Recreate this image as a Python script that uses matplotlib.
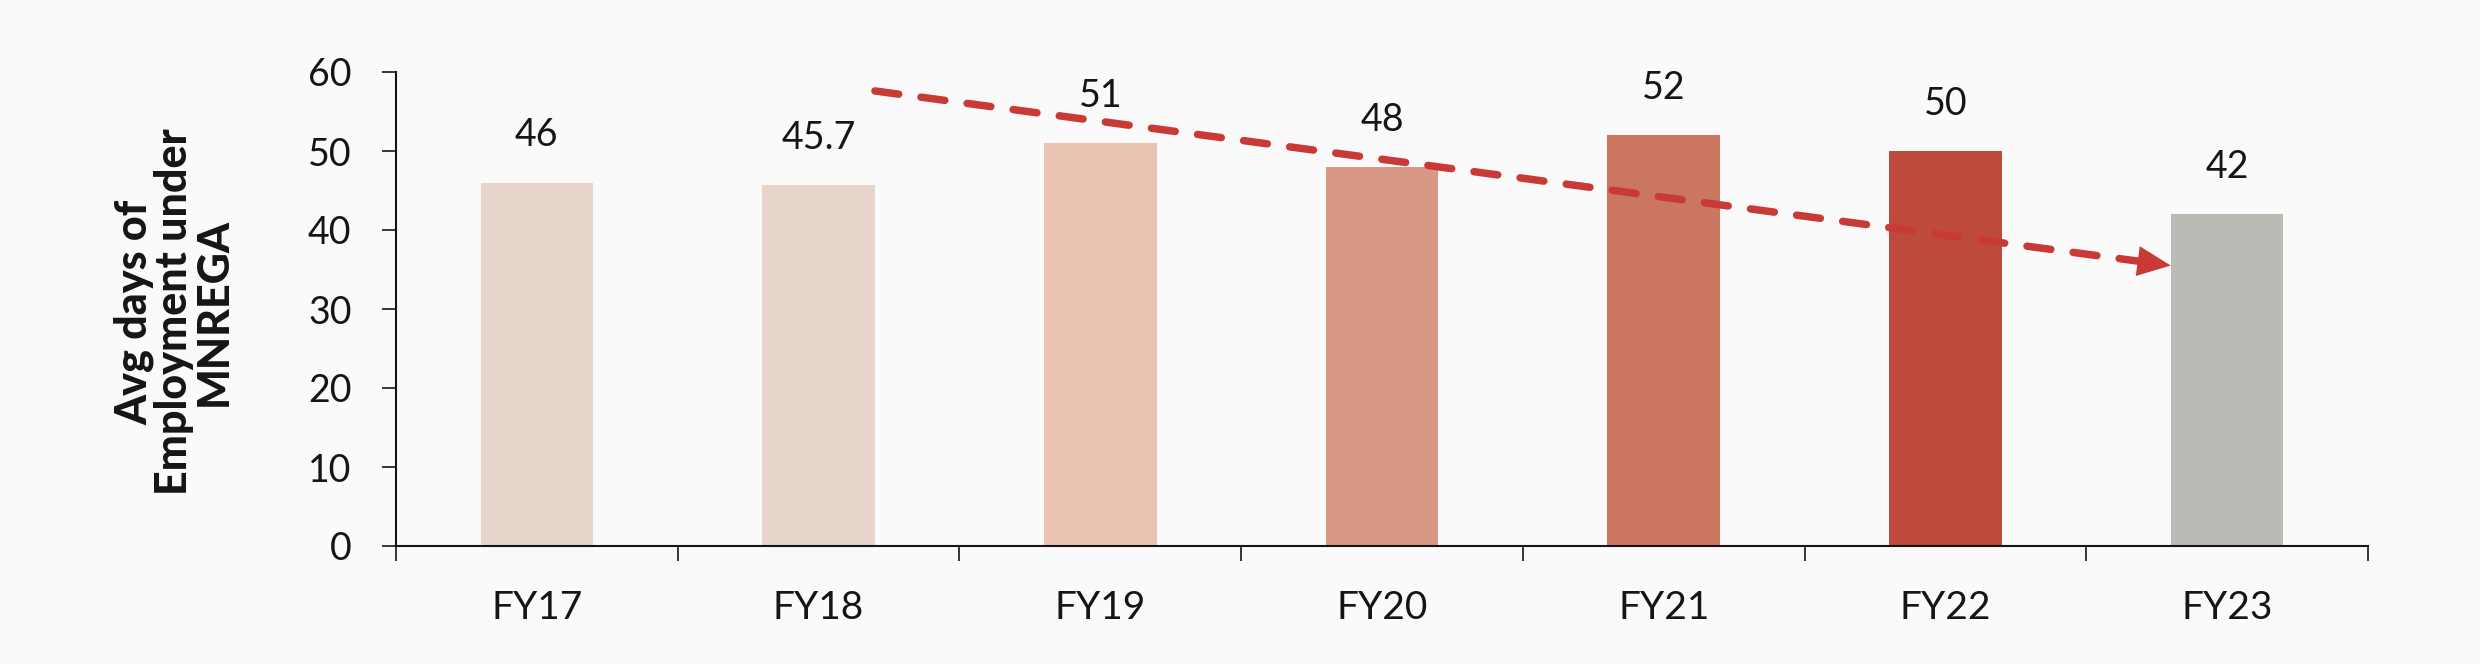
import matplotlib
matplotlib.use("Agg")
import matplotlib.pyplot as plt
import numpy as np

# ---- data ----
categories = ["FY17", "FY18", "FY19", "FY20", "FY21", "FY22", "FY23"]
values = [46, 45.7, 51, 48, 52, 50, 42]
value_labels = ["46", "45.7", "51", "48", "52", "50", "42"]
bar_colors = ["#E7D5CC", "#E7D5CC", "#E9C3B0", "#D99883", "#CB7661", "#BD4A3B", "#BBBBB6"]
y_ticks = [0, 10, 20, 30, 40, 50, 60]
y_label = "Avg days of\nEmployment under\nMNREGA"
# trend arrow (data coordinates: category index, value)
arrow_start = [1.2, 57.6]
arrow_end = [5.8, 35.5]

FONT = ["Lato", "DejaVu Sans"]
plt.rcParams["font.family"] = FONT
BG = "#FAFAFA"
INK = "#151515"
RED = "#C93A36"

fig = plt.figure(figsize=(24.8, 6.64), dpi=100, facecolor=BG)
ax = fig.add_axes([396 / 2480, 1 - 546 / 664, (2368 - 396) / 2480, (546 - 72) / 664])
ax.set_facecolor(BG)

x = np.arange(len(categories))
ax.bar(x, values, width=0.4, color=bar_colors, zorder=2)

for xi, v, lab in zip(x, values, value_labels):
    ax.annotate(lab, xy=(xi, v), xytext=(0, 26), textcoords="offset points",
                ha="center", va="baseline", fontsize=27, color=INK, zorder=4)

ax.set_xlim(-0.5, len(categories) - 0.5)
ax.set_ylim(0, 60)

for s in ["top", "right"]:
    ax.spines[s].set_visible(False)
for s in ["left", "bottom"]:
    ax.spines[s].set_color(INK)
    ax.spines[s].set_linewidth(1.5)

ax.set_yticks(y_ticks)
ax.set_yticklabels([str(t) for t in y_ticks])
ax.tick_params(axis="y", direction="out", length=10, width=1.2, colors=INK,
               labelsize=27, pad=22)

ax.set_xticks(x)
ax.set_xticklabels(categories)
ax.set_xticks(np.arange(len(categories) + 1) - 0.5, minor=True)
ax.tick_params(axis="x", which="major", length=0, labelsize=28, pad=32, colors=INK)
ax.tick_params(axis="x", which="minor", direction="out", length=11, width=1.2, colors=INK)

# dashed trend line + arrowhead
ax.annotate("", xy=arrow_end, xytext=arrow_start,
            arrowprops=dict(arrowstyle="-", color=RED, lw=5.4,
                            linestyle=(0, (3.2, 3.0)), shrinkA=0, shrinkB=24),
            zorder=3)
ax.annotate("", xy=arrow_end, xytext=arrow_start,
            arrowprops=dict(arrowstyle="-|>,head_length=1.0,head_width=0.45",
                            mutation_scale=24, color=RED, lw=0, shrinkA=0, shrinkB=0),
            zorder=3)

fig.text(174 / 2480, 1 - 312 / 664, y_label, rotation=90, ha="center", va="center",
         multialignment="center", fontsize=31, fontweight="black", color=INK,
         linespacing=1.0, family=FONT)

fig.savefig("out.png", dpi=100, facecolor=BG)
